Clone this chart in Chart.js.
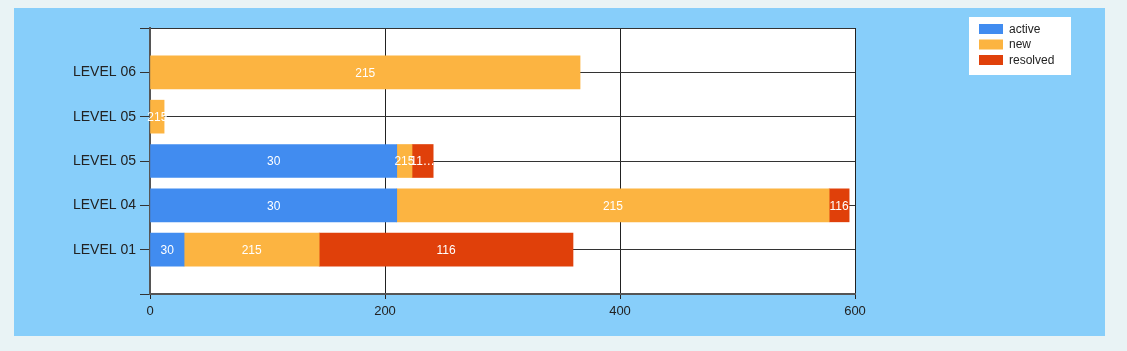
<!DOCTYPE html>
<html>
<head>
<meta charset="utf-8">
<script src="https://cdn.jsdelivr.net/npm/chart.js@4"></script>
<style>
  body { margin: 0; background: #e9f3f5; }
  #panel { position: absolute; left: 14px; top: 8px; width: 1091px; height: 328px; background: #87cefa; }
</style>
</head>
<body>
<div id="panel"><canvas id="chart" width="1091" height="328"></canvas></div>
<script>
// categories (empty slots at both ends give the padding above/below the bars)
const levels = ['', 'LEVEL 06', 'LEVEL 05', 'LEVEL 05', 'LEVEL 04', 'LEVEL 01', ''];

// series values
const active = [null, null, null, 210, 210, 29, null];
const fresh = [null, 366, 12, 13, 368, 115, null];
const resolved = [null, null, null, 18, 17, 216, null];

// text shown inside the bars
const activeText = ['', '', '', '30', '30', '30', ''];
const freshText = ['', '215', '215', '215', '215', '215', ''];
const resolvedText = ['', '', '', '11…', '116', '116', ''];

const xTicks = [0, 200, 400, 600];

Chart.defaults.font.family = 'Liberation Sans';
Chart.defaults.font.size = 13;
Chart.defaults.color = '#222';

const labelPlugin = {
  id: 'barText',
  beforeDraw(chart) {
    const { ctx, chartArea } = chart;
    ctx.save();
    ctx.fillStyle = '#ffffff';
    ctx.fillRect(chartArea.left, chartArea.top, chartArea.right - chartArea.left, chartArea.bottom - chartArea.top);
    ctx.restore();
  },
  afterDatasetsDraw(chart) {
    const ctx = chart.ctx;
    ctx.save();
    ctx.font = '12px Liberation Sans';
    ctx.fillStyle = '#ffffff';
    ctx.textAlign = 'center';
    ctx.textBaseline = 'middle';
    chart.data.datasets.forEach((ds, i) => {
      const meta = chart.getDatasetMeta(i);
      meta.data.forEach((bar, j) => {
        if (ds.data[j] == null || !ds.texts[j]) return;
        ctx.fillText(ds.texts[j], (bar.x + bar.base) / 2, bar.y + 1);
      });
    });
    ctx.restore();
  },
  afterDraw(chart) {
    // legend box in the top right corner
    const ctx = chart.ctx;
    ctx.save();
    ctx.fillStyle = '#ffffff';
    ctx.fillRect(955, 9, 102, 58);
    ctx.font = '12px Liberation Sans';
    ctx.textBaseline = 'middle';
    chart.data.datasets.forEach((ds, i) => {
      const y = 16 + i * 15.5;
      ctx.fillStyle = ds.backgroundColor;
      ctx.fillRect(965, y, 24, 10);
      ctx.fillStyle = '#222';
      ctx.fillText(ds.label, 995, y + 5.5);
    });
    ctx.restore();
  }
};

new Chart(
  document.getElementById('chart'),
  {
    type: 'bar',
    data: {
      labels: levels,
      datasets: [
        { label: 'active', data: active, texts: activeText, backgroundColor: '#418cf0' },
        { label: 'new', data: fresh, texts: freshText, backgroundColor: '#fcb441' },
        { label: 'resolved', data: resolved, texts: resolvedText, backgroundColor: '#e0400a' }
      ]
    },
    options: {
      indexAxis: 'y',
      responsive: false,
      animation: false,
      barThickness: 33,
      layout: { padding: { top: 20, right: 250, left: 0, bottom: 0 } },
      plugins: { legend: { display: false }, tooltip: { enabled: false } },
      scales: {
        x: {
          stacked: true,
          min: 0,
          max: 600,
          afterBuildTicks: (scale) => { scale.ticks = xTicks.map(v => ({ value: v })); },
          afterFit: (scale) => { scale.height = 42; },
          grid: { color: '#222', tickLength: 5 },
          border: { color: '#555', width: 2 },
          ticks: { padding: 5 }
        },
        y: {
          stacked: true,
          offset: false,
          afterFit: (scale) => { scale.width = 136; },
          grid: { offset: false, color: '#333', tickLength: 10 },
          border: { color: '#555', width: 2 },
          ticks: { padding: 4, autoSkip: false, font: { size: 14 } }
        }
      }
    },
    plugins: [labelPlugin]
  }
);
</script>
</body>
</html>
